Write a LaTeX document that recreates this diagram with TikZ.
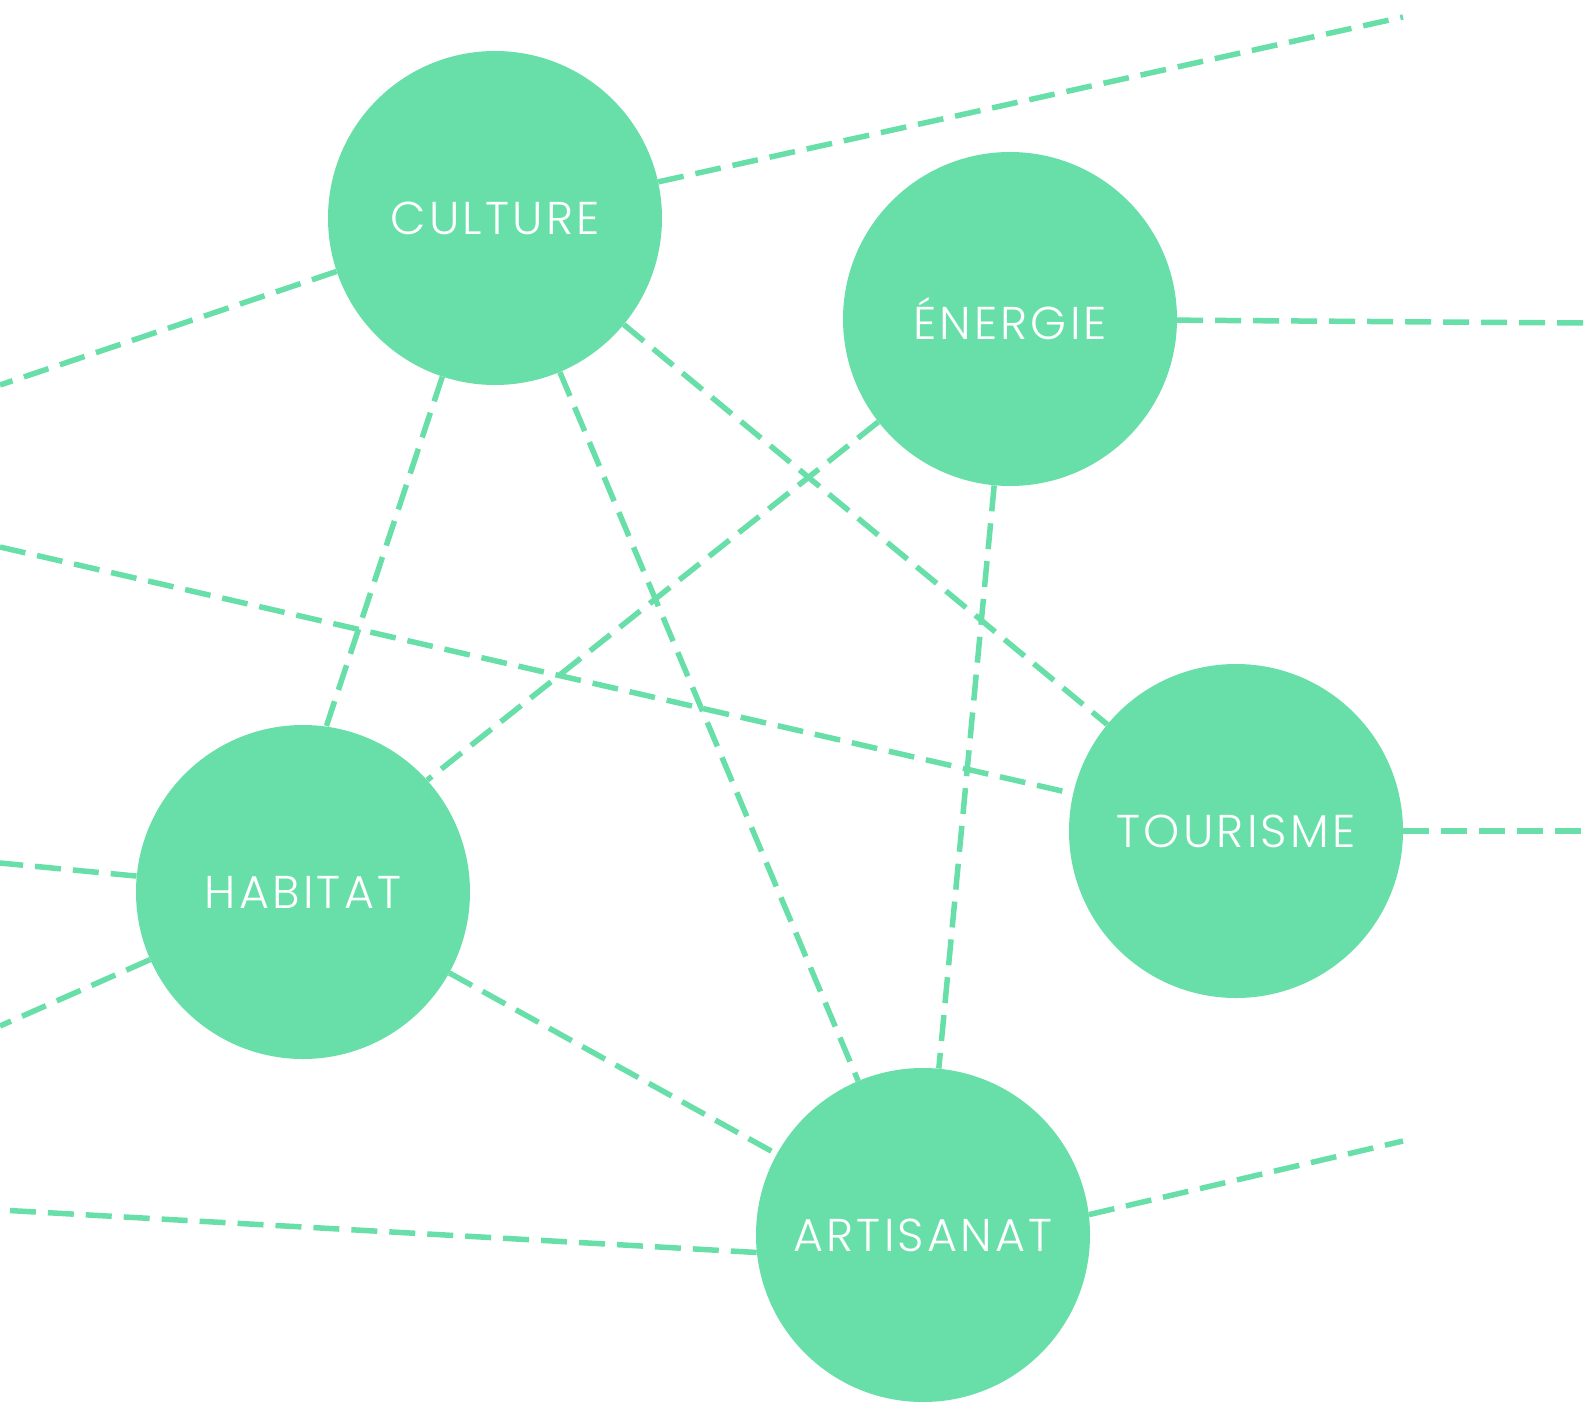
\documentclass[tikz,border=0pt]{standalone}
\usepackage{fontspec}
\setmainfont{Poppins}[UprightFont=* Light, LetterSpace=7]
\usepackage{tikz}
\definecolor{mint}{HTML}{68DFA8}
\tikzstyle{bubble} = [circle, fill=mint, minimum size=334pt, inner sep=0pt, text=white, font=\fontsize{46}{50}\selectfont]
\tikzstyle{link} = [draw=mint, line width=5.5pt, dash pattern=on 26pt off 12pt]

\begin{document}
\begin{tikzpicture}[x=1pt, y=-1pt]
   \useasboundingbox (0,0) rectangle (1588,1403);
   \node[bubble] (culture)   at (495,218)  {CULTURE};
   \node[bubble] (energie)   at (1010,319) {ÉNERGIE};
   \node[bubble] (tourisme)  at (1236,831) {TOURISME};
   \node[bubble] (habitat)   at (303,892)  {HABITAT};
   \node[bubble] (artisanat) at (923,1235) {ARTISANAT};
   % loose ends at the margins
   \coordinate (cNE) at (1403,17);
   \coordinate (cW)  at (0,385);
   \coordinate (eE)  at (1588,323);
   \coordinate (tW)  at (0,547);
   \coordinate (tE)  at (1588,831);
   \coordinate (hW1) at (0,863);
   \coordinate (hW2) at (0,1026);
   \coordinate (aW)  at (0,1210);
   \coordinate (aE)  at (1403,1141);
   % links between themes
   \draw[link] (culture) -- (habitat.82);
   \draw[link] (culture) -- (artisanat);
   \draw[link] (culture) -- (tourisme);
   \draw[link] (energie.218) -- (habitat.42);
   \draw[link] (energie) -- (artisanat);
   \draw[link] (habitat) -- (artisanat);
   \draw[link] (tW) -- (tourisme);
   % links leaving the picture
   \draw[link] (culture) -- (cNE);
   \draw[link] (culture) -- (cW);
   \draw[link] (energie) -- (eE);
   \draw[link] (tourisme) -- (tE);
   \draw[link] (habitat) -- (hW1);
   \draw[link] (habitat) -- (hW2);
   \draw[link] (artisanat.186) -- (aW);
   \draw[link] (artisanat.7) -- (aE);
  \end{tikzpicture}
\end{document}
